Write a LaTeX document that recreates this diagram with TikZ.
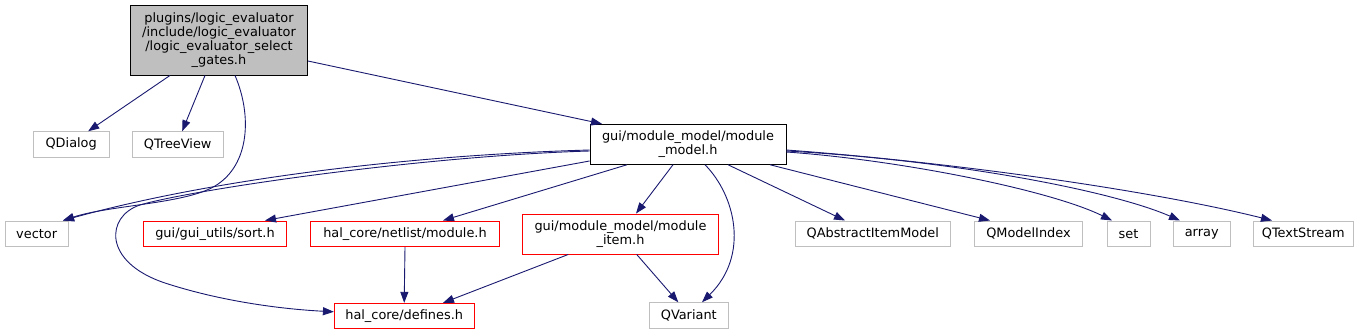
\documentclass[tikz,border=0pt]{standalone}
\usepackage{fontspec}
\setmainfont{DejaVu Sans}
\usetikzlibrary{arrows.meta}
\definecolor{edgeblue}{RGB}{25,25,112}
\definecolor{boxgray}{RGB}{191,191,191}
\tikzset{
  box/.style={draw, line width=0.9pt, inner sep=0pt, align=center,
    font=\fontsize{12.9}{14}\selectfont},
  grayfile/.style={box, draw=boxgray},
  redfile/.style={box, draw=red},
  mainfile/.style={box, draw=black},
  rootfile/.style={box, draw=black, fill=boxgray},
  dep/.style={draw=edgeblue, line width=0.9pt,
    -{Triangle[length=11pt,width=8pt,fill=edgeblue]}},
}
\begin{document}
\begin{tikzpicture}[x=1pt,y=-1pt]
\useasboundingbox (0,0) rectangle (1366,335);
% nodes
\node[rootfile, minimum width=177pt, minimum height=69.5pt] (top) at (219,40.25)
  {plugins/logic\_evaluator\\/include/logic\_evaluator\\/logic\_evaluator\_select\\\_gates.h};
\node[grayfile, minimum width=75.7pt, minimum height=25.3pt] (qdialog) at (71.2,144.3) {QDialog};
\node[grayfile, minimum width=90.7pt, minimum height=25.3pt] (qtree) at (177.7,144.3) {QTreeView};
\node[mainfile, minimum width=196pt, minimum height=40pt] (mm) at (688,144.3)
  {gui/module\_model/module\\\_model.h};
\node[grayfile, minimum width=63.3pt, minimum height=25.7pt] (vector) at (36.7,233.8) {vector};
\node[redfile, minimum width=143.3pt, minimum height=25.7pt] (sort) at (215,233.8) {gui/gui\_utils/sort.h};
\node[redfile, minimum width=188.7pt, minimum height=25.7pt] (modh) at (405,233.8) {hal\_core/netlist/module.h};
\node[redfile, minimum width=196.3pt, minimum height=40pt] (item) at (620.5,234)
  {gui/module\_model/module\\\_item.h};
\node[redfile, minimum width=139.7pt, minimum height=25pt] (defines) at (404.2,315.8) {hal\_core/defines.h};
\node[grayfile, minimum width=79pt, minimum height=26pt] (qvariant) at (688.8,315.7) {QVariant};
\node[grayfile, minimum width=155.7pt, minimum height=25.7pt] (qaim) at (872.8,233.8) {QAbstractItemModel};
\node[grayfile, minimum width=108.3pt, minimum height=25.7pt] (qmi) at (1028.5,233.8) {QModelIndex};
\node[grayfile, minimum width=43pt, minimum height=25.7pt] (set) at (1128.5,233.8) {set};
\node[grayfile, minimum width=56.7pt, minimum height=25.7pt] (array) at (1201.7,233.8) {array};
\node[grayfile, minimum width=100pt, minimum height=25.7pt] (qts) at (1303.3,233.8) {QTextStream};
% edges from root
\draw[dep] ([xshift=-49pt]top.south) -- ([xshift=17pt]qdialog.north);
\draw[dep] ([xshift=-14pt]top.south) -- ([xshift=4.5pt]qtree.north);
\draw[dep] ([yshift=-20.75pt]top.east) -- ([xshift=-86pt]mm.north);
\draw[dep] ([xshift=16pt]top.south) .. controls (252,115) and (250,165) .. (215,186)
  .. controls (185,204) and (110,205) .. ([xshift=26.3pt]vector.north);
% edges from module_model
\draw[dep] ([yshift=-5.7pt]mm.west) .. controls (410,155) and (213,179) .. ([xshift=26.3pt]vector.north);
\draw[dep] ([yshift=-6.7pt]mm.west) .. controls (420,156) and (190,190) .. (140,205)
  .. controls (106,216) and (102,262) .. (165,283)
  .. controls (220,301) and (280,309) .. ([yshift=4pt]defines.west);
\draw[dep] ([yshift=-16.7pt]mm.west) -- ([xshift=50pt]sort.north);
\draw[dep] ([xshift=-61pt]mm.south) -- ([xshift=38pt]modh.north);
\draw[dep] ([xshift=-15pt]mm.south) -- ([xshift=15.5pt]item.north);
\draw[dep] ([xshift=17pt]mm.south) .. controls (735,195) and (750,255) .. ([xshift=13.2pt]qvariant.north);
\draw[dep] ([xshift=40pt]mm.south) -- ([xshift=-27.8pt]qaim.north);
\draw[dep] ([xshift=82pt]mm.south) -- ([xshift=-38.5pt]qmi.north);
\draw[dep] ([yshift=-7.7pt]mm.east) .. controls (900,160) and (1050,190) .. ([xshift=-16.5pt]set.north);
\draw[dep] ([yshift=-6.7pt]mm.east) .. controls (950,160) and (1110,190) .. ([xshift=-21.7pt]array.north);
\draw[dep] ([yshift=-5.7pt]mm.east) .. controls (950,162) and (1150,190) .. ([xshift=-31.3pt]qts.north);
% other edges
\draw[dep] ([xshift=16.2pt]item.south) -- ([xshift=-10.5pt]qvariant.north);
\draw[dep] ([xshift=-52.2pt]item.south) -- ([xshift=38.8pt]defines.north);
\draw[dep] (modh.south) -- (defines.north);
\end{tikzpicture}
\end{document}
